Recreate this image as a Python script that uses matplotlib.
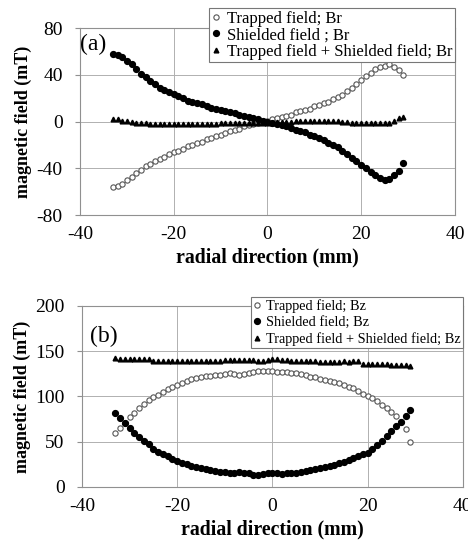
import numpy as np
import matplotlib
matplotlib.use("Agg")
import matplotlib.pyplot as plt

plt.rcParams['font.family'] = ['Liberation Serif', 'DejaVu Serif']
plt.rcParams['axes.unicode_minus'] = False

# radial position (mm), 1 mm steps
r = list(range(-33, 30))

# panel (a): Br
trapped_br = [-56, -55, -53, -50, -47, -44, -41, -38, -36, -34,
              -32, -30, -28, -26, -25, -23, -21, -20, -18, -17,
              -15, -14, -12, -11, -10, -8, -7, -6, -4, -3,
              -2, -1, 0, 1, 2, 3, 4, 5, 6, 8,
              9, 10, 11, 13, 14, 16, 17, 19, 21, 23,
              26, 29, 32, 36, 39, 42, 45, 47, 48, 49,
              47, 44, 40]
shielded_br = [58, 57, 55, 52, 49, 45, 41, 38, 35, 32,
               29, 27, 25, 24, 22, 20, 18, 17, 16, 15,
               13, 12, 11, 10, 9, 8, 7, 6, 5, 4,
               3, 2, 1, 0, -1, -2, -3, -4, -5, -7,
               -8, -9, -11, -12, -14, -16, -18, -20, -22, -25,
               -28, -31, -34, -37, -40, -43, -46, -48, -50, -49,
               -46, -42, -35]
sum_br = [2, 2, 1, 1, 0, -1, -1, -1, -2, -2,
          -2, -2, -2, -2, -2, -2, -2, -2, -2, -2,
          -2, -2, -2, -1, -1, -1, -1, -1, -1, -1,
          -1, -1, -1, -1, -1, 0, 0, 0, 0, 1,
          1, 1, 1, 1, 1, 1, 1, 1, 1, 0,
          0, -1, -1, -1, -1, -1, -1, -1, -1, -1,
          1, 3, 4]

# panel (b): Bz
trapped_bz = [60, 65, 71, 77, 82, 87, 92, 96, 99, 102,
              105, 108, 111, 113, 115, 117, 119, 120, 122, 123,
              123, 124, 124, 125, 126, 125, 124, 125, 126, 127,
              128, 128, 128, 128, 127, 127, 127, 126, 126, 125,
              124, 122, 121, 119, 118, 117, 116, 115, 113, 111,
              109, 106, 103, 101, 98, 95, 91, 87, 83, 78,
              72, 64, 50]
shielded_bz = [82, 76, 71, 65, 60, 55, 51, 47, 42, 39,
               36, 34, 31, 29, 27, 25, 23, 22, 21, 20,
               19, 18, 17, 17, 16, 16, 17, 16, 15, 13,
               13, 14, 15, 15, 16, 14, 15, 15, 15, 17,
               18, 19, 20, 21, 22, 23, 24, 26, 28, 30,
               32, 34, 36, 38, 42, 46, 51, 56, 62, 67,
               72, 78, 85]
sum_bz = [142, 141, 141, 141, 141, 141, 141, 141, 139, 139,
          139, 139, 139, 139, 139, 139, 139, 139, 139, 139,
          139, 139, 139, 140, 140, 140, 140, 140, 140, 140,
          139, 139, 140, 141, 141, 140, 140, 139, 139, 139,
          139, 139, 139, 138, 138, 138, 138, 138, 139, 138,
          139, 139, 136, 136, 136, 136, 136, 136, 135, 135,
          135, 135, 134]

fig = plt.figure(figsize=(4.68, 5.42), dpi=100)
ax1 = fig.add_axes([0.171, 0.603, 0.801, 0.345])
ax2 = fig.add_axes([0.175, 0.1015, 0.814, 0.334])

grid_c = '#b0b0b0'


def style(ax):
    ax.grid(True, color=grid_c, linewidth=0.7)
    ax.set_axisbelow(True)
    for s in ax.spines.values():
        s.set_color('#909090')
        s.set_linewidth(0.8)
    ax.tick_params(axis='y', length=3.5, color='#909090', labelsize=14, pad=9)
    ax.tick_params(axis='x', length=0, labelsize=14, pad=8)
    ax.set_xlim(-40, 40)
    ax.set_xticks([-40, -20, 0, 20, 40])
    ax.set_xlabel('radial direction (mm)', fontsize=14.3, fontweight='bold', labelpad=3)
    ax.set_ylabel('magnetic field (mT)', fontsize=13, fontweight='bold', labelpad=3)


def legend(ax, anchor, size, spacing):
    leg = ax.legend(loc='upper right', bbox_to_anchor=anchor, fontsize=size,
                    frameon=True, fancybox=False, borderpad=0.15, labelspacing=spacing,
                    handlelength=0.5, handletextpad=0.4, borderaxespad=0,
                    framealpha=1)
    leg.get_frame().set_edgecolor('#777777')
    leg.get_frame().set_linewidth(0.8)


# (a)
ax1.plot(r, trapped_br, 'o', mfc='white', mec='#555555', ms=3.8, mew=0.8,
         label='Trapped field; Br')
ax1.plot(r, shielded_br, 'o', color='black', ms=4.2, label='Shielded field ; Br')
ax1.plot(r, sum_br, '^', color='black', ms=3.4, label='Trapped field + Shielded field; Br')
style(ax1)
ax1.set_ylim(-80, 80)
ax1.set_yticks([-80, -40, 0, 40, 80])
ax1.text(0.0, 0.915, '(a)', transform=ax1.transAxes, fontsize=17, va='center')
legend(ax1, (1.0, 1.107), 12, 0.03)

# (b)
ax2.plot(r, trapped_bz, 'o', mfc='white', mec='#555555', ms=3.8, mew=0.8,
         label='Trapped field; Bz')
ax2.plot(r, shielded_bz, 'o', color='black', ms=4.2, label='Shielded field; Bz')
ax2.plot(r, sum_bz, '^', color='black', ms=3.4, label='Trapped field + Shielded field; Bz')
style(ax2)
ax2.set_ylim(0, 200)
ax2.set_yticks([0, 50, 100, 150, 200])
ax2.text(0.021, 0.829, '(b)', transform=ax2.transAxes, fontsize=17, va='center')
legend(ax2, (1.0, 1.05), 10.3, 0.22)

fig.savefig('out.png', dpi=100)
